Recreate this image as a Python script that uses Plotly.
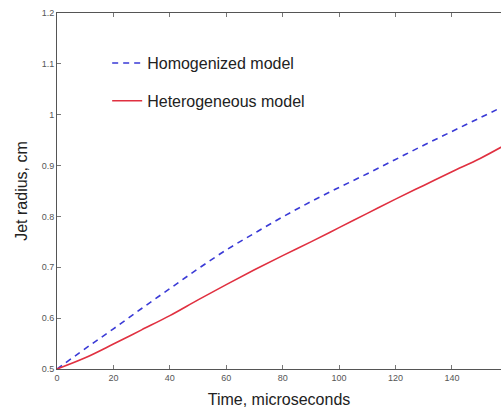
import plotly.graph_objects as go

time_us = [0, 10, 20, 30, 40, 50, 60, 70, 80, 90, 100, 110, 120, 130, 140, 150, 160]
homogenized = [0.5, 0.540, 0.579, 0.619, 0.658, 0.697, 0.734, 0.767, 0.799, 0.829,
               0.857, 0.884, 0.912, 0.940, 0.967, 0.994, 1.021]
heterogeneous = [0.5, 0.522, 0.549, 0.577, 0.605, 0.636, 0.666, 0.695, 0.723, 0.750,
                 0.778, 0.806, 0.834, 0.861, 0.888, 0.914, 0.944]
x_ticks = [0, 20, 40, 60, 80, 100, 120, 140, 160]
y_ticks = [0.5, 0.6, 0.7, 0.8, 0.9, 1.0, 1.1, 1.2]
y_tick_text = ["0.5", "0.6", "0.7", "0.8", "0.9", "1", "1.1", "1.2"]

fig = go.Figure()
fig.add_trace(go.Scatter(x=time_us, y=homogenized, mode="lines", name="Homogenized model",
                         legendgroup="a", line_shape="spline",
                         line=dict(color="#3a3ad6", width=1.6, dash="6px,5px")))
fig.add_trace(go.Scatter(x=time_us, y=heterogeneous, mode="lines", name="Heterogeneous model",
                         legendgroup="b", line_shape="spline",
                         line=dict(color="#e03040", width=1.6)))

axis_common = dict(showline=True, linecolor="#555555", linewidth=1, ticks="inside",
                   ticklen=4, tickcolor="#777777", showgrid=False, zeroline=False,
                   tickfont=dict(size=9, color="#555555"))

fig.update_layout(
    width=501, height=410,
    margin=dict(l=57, r=0, t=13, b=41),
    paper_bgcolor="white", plot_bgcolor="white",
    font=dict(family="Liberation Sans, Arial, sans-serif", color="#222222"),
    showlegend=True,
    legend=dict(x=0.113, y=0.907, xanchor="left", yanchor="top",
                bgcolor="rgba(0,0,0,0)", font=dict(size=16, color="#222222"),
                traceorder="grouped", tracegroupgap=14),
    xaxis=dict(range=[0, 157.4], tickvals=x_ticks, mirror="ticks",
               title=dict(text="Time, microseconds", font=dict(size=16), standoff=12),
               **axis_common),
    yaxis=dict(range=[0.5, 1.2], tickvals=y_ticks, ticktext=y_tick_text, mirror=False,
               title=dict(text="Jet radius, cm", font=dict(size=16), standoff=10),
               **axis_common),
)

fig.write_html("out.html")
